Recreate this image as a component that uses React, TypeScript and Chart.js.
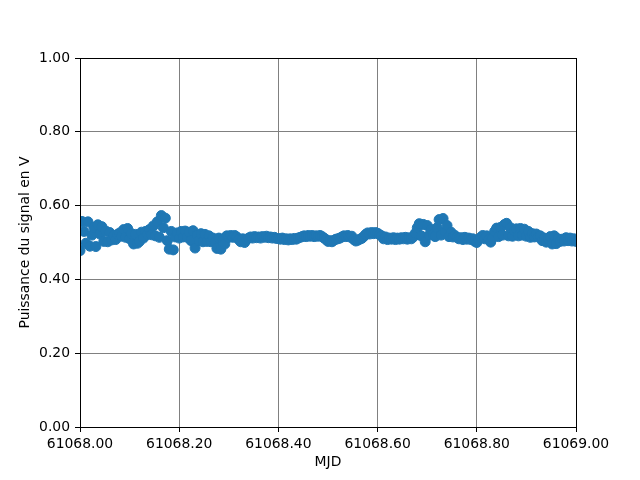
import { useEffect, useRef } from "react";
import { Chart, registerables } from "chart.js";

Chart.register(...registerables);

const MJD_START = 61068.0;
const MJD_STEP = 0.004;

const signalValues = [
  0.478, 0.557, 0.530, 0.498, 0.556, 0.490, 0.520, 0.541, 0.489, 0.548,
  0.523, 0.543, 0.503, 0.531, 0.502, 0.527, 0.507, 0.519, 0.508, 0.522,
  0.526, 0.517, 0.535, 0.514, 0.538, 0.510, 0.524, 0.496, 0.522, 0.498,
  0.503, 0.528, 0.512, 0.530, 0.522, 0.535, 0.521, 0.545, 0.518, 0.556,
  0.514, 0.573, 0.540, 0.566, 0.505, 0.482, 0.530, 0.480, 0.515, 0.526,
  0.512, 0.530, 0.515, 0.531, 0.514, 0.528, 0.505, 0.532, 0.485, 0.520,
  0.505, 0.524, 0.502, 0.522, 0.503, 0.518, 0.502, 0.512, 0.500, 0.484,
  0.512, 0.482, 0.508, 0.496, 0.518, 0.514, 0.519, 0.514, 0.519, 0.515,
  0.508, 0.502, 0.510, 0.500, 0.508, 0.512, 0.515, 0.512, 0.516, 0.513,
  0.515, 0.512, 0.516, 0.514, 0.517, 0.513, 0.515, 0.512, 0.514, 0.511,
  0.511, 0.509, 0.512, 0.508, 0.510, 0.507, 0.510, 0.508, 0.511, 0.509,
  0.512, 0.514, 0.516, 0.518, 0.516, 0.519, 0.517, 0.519, 0.516, 0.518,
  0.517, 0.519, 0.516, 0.512, 0.508, 0.503, 0.505, 0.502, 0.506, 0.509,
  0.510, 0.512, 0.515, 0.518, 0.516, 0.519, 0.515, 0.517, 0.508, 0.504,
  0.506, 0.509, 0.511, 0.516, 0.522, 0.526, 0.523, 0.527, 0.524, 0.527,
  0.525, 0.521, 0.518, 0.510, 0.515, 0.508, 0.512, 0.509, 0.513, 0.508,
  0.512, 0.509, 0.513, 0.510, 0.514, 0.509, 0.513, 0.510, 0.515, 0.525,
  0.540, 0.551, 0.518, 0.549, 0.502, 0.546, 0.520, 0.535, 0.522, 0.516,
  0.540, 0.562, 0.520, 0.565, 0.530, 0.546, 0.516, 0.528, 0.515, 0.519,
  0.514, 0.510, 0.513, 0.508, 0.514, 0.509, 0.512, 0.508, 0.510, 0.503,
  0.500, 0.508, 0.514, 0.519, 0.510, 0.518, 0.508, 0.501, 0.512, 0.530,
  0.539, 0.516, 0.541, 0.520, 0.549, 0.552, 0.518, 0.540, 0.517, 0.532,
  0.537, 0.518, 0.538, 0.520, 0.536, 0.517, 0.530, 0.514, 0.524, 0.515,
  0.523, 0.515, 0.518, 0.505, 0.512, 0.501, 0.510, 0.516, 0.496, 0.518,
  0.497, 0.510, 0.503, 0.509, 0.504, 0.513, 0.505, 0.512, 0.504, 0.510, 0.503,
];

const xTickValues = [61068.0, 61068.2, 61068.4, 61068.6, 61068.8, 61069.0];
const yTickValues = [0.0, 0.2, 0.4, 0.6, 0.8, 1.0];

const X_LABEL = "MJD";
const Y_LABEL = "Puissance du signal en V";

const FONT = "'DejaVu Sans', sans-serif";
const FONT_SIZE = 13.9;

const boxPlugin = {
  id: "axesBox",
  afterDatasetsDraw(chart: any) {
    const { ctx, chartArea } = chart;
    ctx.save();
    ctx.strokeStyle = "#000000";
    ctx.lineWidth = 1;
    ctx.strokeRect(
      Math.round(chartArea.left) + 0.5,
      Math.round(chartArea.top) + 0.5,
      Math.round(chartArea.right - chartArea.left),
      Math.round(chartArea.bottom - chartArea.top)
    );
    ctx.restore();
  },
};

export default function App() {
  const canvasRef = useRef<HTMLCanvasElement | null>(null);

  useEffect(() => {
    if (!canvasRef.current) return;
    const points = signalValues.map((v, i) => ({ x: MJD_START + i * MJD_STEP, y: v }));
    const chart = new Chart(canvasRef.current, {
      type: "scatter",
      data: {
        datasets: [
          {
            data: points,
            backgroundColor: "#1f77b4",
            borderColor: "#1f77b4",
            pointRadius: 5,
            pointBorderWidth: 1,
            pointHoverRadius: 5,
            showLine: false,
            clip: 0,
          } as any,
        ],
      },
      options: {
        animation: false,
        responsive: false,
        events: [],
        layout: { padding: { left: 0, top: 58, right: 64, bottom: 0 } },
        plugins: {
          legend: { display: false },
          tooltip: { enabled: false },
          title: { display: false },
        },
        scales: {
          x: {
            type: "linear",
            min: xTickValues[0],
            max: xTickValues[xTickValues.length - 1],
            afterBuildTicks: (scale: any) => {
              scale.ticks = xTickValues.map((v) => ({ value: v }));
            },
            afterFit: (scale: any) => {
              scale.height = 53;
            },
            ticks: {
              autoSkip: false,
              maxRotation: 0,
              minRotation: 0,
              padding: 4,
              color: "#000000",
              font: { family: FONT, size: FONT_SIZE },
              callback: (v: any) => Number(v).toFixed(2),
            },
            grid: {
              color: "#808080",
              lineWidth: 1,
              tickColor: "#000000",
              tickLength: 5,
              drawTicks: true,
            },
            border: { display: false },
            title: {
              display: true,
              text: X_LABEL,
              color: "#000000",
              font: { family: FONT, size: FONT_SIZE },
              padding: { top: 0, bottom: 9.5 },
            },
          },
          y: {
            type: "linear",
            min: yTickValues[0],
            max: yTickValues[yTickValues.length - 1],
            afterBuildTicks: (scale: any) => {
              scale.ticks = yTickValues.map((v) => ({ value: v }));
            },
            afterFit: (scale: any) => {
              scale.width = 80;
            },
            ticks: {
              autoSkip: false,
              padding: 5,
              color: "#000000",
              font: { family: FONT, size: FONT_SIZE },
              callback: (v: any) => Number(v).toFixed(2),
            },
            grid: {
              color: "#808080",
              lineWidth: 1,
              tickColor: "#000000",
              tickLength: 5,
              drawTicks: true,
            },
            border: { display: false },
            title: {
              display: true,
              text: Y_LABEL,
              color: "#000000",
              font: { family: FONT, size: FONT_SIZE },
              padding: { top: 17.5, bottom: 0 },
            },
          },
        },
      },
      plugins: [boxPlugin],
    });
    return () => chart.destroy();
  }, []);

  return (
    <div style={{ position: "fixed", left: 0, top: 0, width: 640, height: 480, background: "#ffffff" }}>
      <canvas ref={canvasRef} width={640} height={480} />
    </div>
  );
}
